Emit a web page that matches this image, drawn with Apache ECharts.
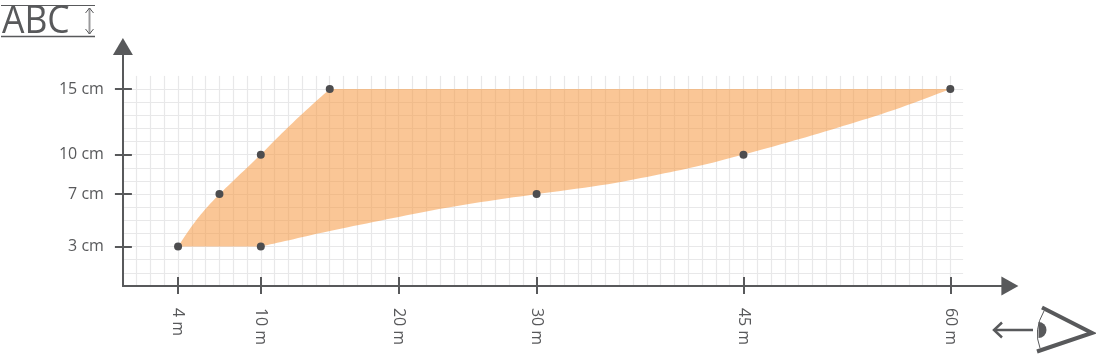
<!DOCTYPE html>
<html>
<head>
<meta charset="utf-8">
<style>
  html, body { margin: 0; padding: 0; background: #fff; }
  #chart { width: 1096px; height: 354px; }
</style>
<script src="https://cdn.jsdelivr.net/npm/echarts@6/dist/echarts.min.js"></script>
</head>
<body>
<div id="chart"></div>
<script>
// tick labels, distance in m and text height in cm
const distanceTicks = [4, 10, 20, 30, 45, 60]
const heightTicks = [3, 7, 10, 15]

// the marked points
const pointDistance = [4, 7, 10, 15, 60, 45, 30, 10]
const pointHeight = [3, 7, 10, 15, 15, 10, 7, 3]

// edges of the orange area
const upperDistance = [4, 4.87, 5.83, 7, 8.49, 10, 11.39, 13.08, 15]
const upperHeight = [3, 4.39, 5.7, 7, 8.5, 10, 11.5, 13.2, 15]
const lowerDistance = [60, 56.1, 52.5, 48.86, 45, 41.85, 38.7, 35.08, 30, 26.14, 22.76, 18.88, 15.02, 12.12, 10]
const lowerHeight = [15, 13.45, 12.26, 11.12, 10, 9.14, 8.45, 7.7, 7, 6.42, 5.84, 5.02, 4.2, 3.5, 3]

const darkGrey = '#58595b'
const paperLine = '#e8e8e9'
const labelFont = '"Open Sans", sans-serif'

// corner cutting so the drawn edges stay curved, end points are kept
const smoothEdge = (pts) => {
  let out = pts
  for (let n = 0; n < 3; n++) {
    const next = [out[0]]
    for (let i = 0; i < out.length - 1; i++) {
      const [a, b] = [out[i], out[i + 1]]
      next.push([a[0] * 0.75 + b[0] * 0.25, a[1] * 0.75 + b[1] * 0.25])
      next.push([a[0] * 0.25 + b[0] * 0.75, a[1] * 0.25 + b[1] * 0.75])
    }
    next.push(out[out.length - 1])
    out = next
  }
  return out
}

const myChart = echarts.init(document.getElementById('chart'))

const option = {
  animation: false,
  // grid 0 paints the paper lines, grid 1 holds axes and data, grid 2 the inner half of the ticks
  grid: [
    { left: 122.9, top: 75.9, width: 840.2, height: 210 },
    { left: 122.9, top: 46.5, width: 887, height: 239.4 },
    { left: 122.9, top: 46.5, width: 887, height: 239.4 }
  ],
  xAxis: [
    {
      type: 'value',
      gridIndex: 0,
      min: 0,
      max: 60.93,
      interval: 1,
      axisLine: { show: false },
      axisLabel: { show: false },
      axisTick: { show: false },
      splitLine: { show: true, showMaxLine: false, lineStyle: { color: paperLine, width: 1.2 } }
    },
    {
      type: 'value',
      gridIndex: 1,
      min: 0,
      max: 64.32,
      axisLine: {
        show: true,
        symbol: ['none', 'triangle'],
        symbolSize: [19, 17],
        lineStyle: { color: darkGrey, width: 2 }
      },
      axisTick: {
        show: true,
        length: 8,
        customValues: distanceTicks,
        lineStyle: { color: darkGrey, width: 2 }
      },
      axisLabel: {
        show: true,
        customValues: distanceTicks,
        rotate: -90,
        margin: 22,
        color: darkGrey,
        fontFamily: labelFont,
        fontSize: 16,
        formatter: (v) => v + ' m'
      },
      splitLine: { show: false }
    },
    {
      type: 'value',
      gridIndex: 2,
      min: 0,
      max: 64.32,
      axisLine: { show: false },
      axisLabel: { show: false },
      axisTick: {
        show: true,
        inside: true,
        length: 9,
        customValues: distanceTicks,
        lineStyle: { color: darkGrey, width: 2 }
      },
      splitLine: { show: false }
    }
  ],
  yAxis: [
    {
      type: 'value',
      gridIndex: 0,
      min: 0,
      max: 16,
      interval: 1,
      axisLine: { show: false },
      axisLabel: { show: false },
      axisTick: { show: false },
      splitLine: { show: true, showMaxLine: false, lineStyle: { color: paperLine, width: 1.2 } }
    },
    {
      type: 'value',
      gridIndex: 1,
      min: 0,
      max: 18.24,
      axisLine: {
        show: true,
        symbol: ['none', 'triangle'],
        symbolSize: [20, 17],
        lineStyle: { color: darkGrey, width: 2 }
      },
      axisTick: {
        show: true,
        length: 8,
        customValues: heightTicks,
        lineStyle: { color: darkGrey, width: 2 }
      },
      axisLabel: {
        show: true,
        customValues: heightTicks,
        margin: 19,
        color: darkGrey,
        fontFamily: labelFont,
        fontSize: 16,
        formatter: (v) => v + ' cm'
      },
      splitLine: { show: false }
    },
    {
      type: 'value',
      gridIndex: 2,
      min: 0,
      max: 18.24,
      axisLine: { show: false },
      axisLabel: { show: false },
      axisTick: {
        show: true,
        inside: true,
        length: 9,
        customValues: heightTicks,
        lineStyle: { color: darkGrey, width: 2 }
      },
      splitLine: { show: false }
    }
  ],
  series: [
    {
      type: 'custom',
      xAxisIndex: 1,
      yAxisIndex: 1,
      data: upperDistance.map((d, i) => [d, upperHeight[i]]).concat(lowerDistance.map((d, i) => [d, lowerHeight[i]])),
      silent: true,
      z: 3,
      renderItem: (params, api) => {
        if (params.dataIndex !== 0) return null
        const upper = upperDistance.map((d, i) => api.coord([d, upperHeight[i]]))
        const lower = lowerDistance.map((d, i) => api.coord([d, lowerHeight[i]]))
        return {
          type: 'polygon',
          shape: { points: smoothEdge(upper).concat(smoothEdge(lower)) },
          style: { fill: 'rgba(245, 152, 64, 0.55)' }
        }
      }
    },
    {
      type: 'scatter',
      xAxisIndex: 1,
      yAxisIndex: 1,
      data: pointDistance.map((d, i) => [d, pointHeight[i]]),
      symbolSize: 8,
      itemStyle: { color: '#4d4d4f', opacity: 1 },
      z: 4
    }
  ],
  // the ABC height key and the eye icon
  graphic: [
    { type: 'text', x: 2, y: 2, scaleX: 0.91, style: { text: 'ABC', fill: darkGrey, font: '400 39px "Open Sans", sans-serif' } },
    { type: 'line', shape: { x1: 1, y1: 5.5, x2: 95, y2: 5.5 }, style: { stroke: darkGrey, lineWidth: 1 } },
    { type: 'line', shape: { x1: 1, y1: 36.5, x2: 95, y2: 36.5 }, style: { stroke: darkGrey, lineWidth: 1.3 } },
    { type: 'line', shape: { x1: 89.5, y1: 8, x2: 89.5, y2: 34 }, style: { stroke: '#9a9a9c', lineWidth: 2 } },
    { type: 'polyline', shape: { points: [[85.5, 13], [89.5, 8], [93.5, 13]] }, style: { stroke: darkGrey, lineWidth: 1, fill: 'none' } },
    { type: 'polyline', shape: { points: [[85.5, 29], [89.5, 34], [93.5, 29]] }, style: { stroke: darkGrey, lineWidth: 1, fill: 'none' } },
    { type: 'polyline', shape: { points: [[1042, 307.5], [1092, 333], [1037, 351.5]] }, style: { stroke: darkGrey, lineWidth: 4, fill: 'none' } },
    { type: 'bezierCurve', shape: { x1: 1044, y1: 311, cpx1: 1033, cpy1: 330, x2: 1040, y2: 348 }, style: { stroke: darkGrey, lineWidth: 1, fill: 'none' } },
    { type: 'sector', shape: { cx: 1038.5, cy: 330, r: 8, startAngle: -Math.PI / 2, endAngle: Math.PI / 2 }, style: { fill: darkGrey } },
    { type: 'line', shape: { x1: 995, y1: 330, x2: 1033, y2: 330 }, style: { stroke: darkGrey, lineWidth: 2.5 } },
    { type: 'polyline', shape: { points: [[1002, 322.5], [994, 330], [1002, 337.5]] }, style: { stroke: darkGrey, lineWidth: 2.5, fill: 'none' } }
  ]
}
myChart.setOption(option)
</script>
</body>
</html>
